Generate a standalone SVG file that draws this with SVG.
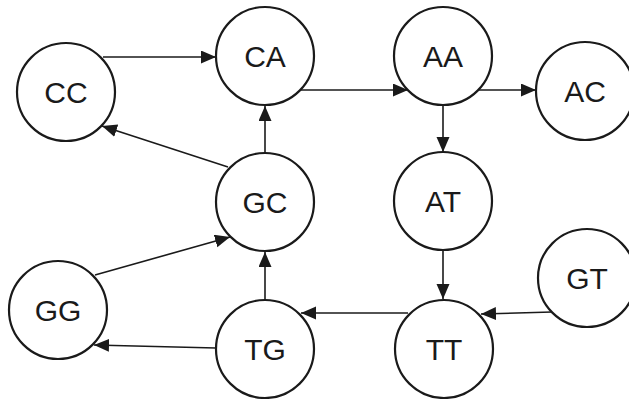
<svg xmlns="http://www.w3.org/2000/svg" width="629" height="399" viewBox="0 0 629 399">
  <style>
    .node circle { fill: #fff; stroke: #1a1a1a; stroke-width: 2.2; }
    .node text { font-family: "Liberation Sans", Arial, sans-serif; font-size: 30px; fill: #1a1a1a; text-anchor: middle; }
    .edges line { stroke: #1a1a1a; stroke-width: 1.6; marker-end: url(#arrow); }
  </style>
  <defs>
    <marker id="arrow" markerUnits="userSpaceOnUse" markerWidth="16" markerHeight="14" refX="15" refY="6.5" orient="auto">
      <path d="M0,0 L15,6.5 L0,13 Z" fill="#1a1a1a"/>
    </marker>
  </defs>

  <g id="connectors" class="edges">
    <line x1="103" y1="57" x2="216" y2="57"/>
    <line x1="300" y1="90" x2="408" y2="90"/>
    <line x1="478" y1="90" x2="536" y2="90"/>
    <line x1="443" y1="106" x2="443" y2="152"/>
    <line x1="265" y1="153" x2="265" y2="106"/>
    <line x1="228" y1="167" x2="102" y2="126"/>
    <line x1="95" y1="275" x2="230" y2="237"/>
    <line x1="265" y1="300" x2="265" y2="252"/>
    <line x1="216" y1="348" x2="94" y2="345"/>
    <line x1="408" y1="313" x2="301" y2="313"/>
    <line x1="443" y1="250" x2="443" y2="299"/>
    <line x1="552" y1="312" x2="481" y2="314"/>
  </g>

  <g id="node-CC" class="node"><circle cx="66" cy="92" r="49"/><text x="66" y="103">CC</text></g>
  <g id="node-CA" class="node"><circle cx="265" cy="56" r="49"/><text x="265" y="67">CA</text></g>
  <g id="node-AA" class="node"><circle cx="443" cy="56" r="49"/><text x="443" y="67">AA</text></g>
  <g id="node-AC" class="node"><circle cx="585" cy="91" r="49"/><text x="585" y="102">AC</text></g>
  <g id="node-GC" class="node"><circle cx="265" cy="202" r="49"/><text x="265" y="213">GC</text></g>
  <g id="node-AT" class="node"><circle cx="443" cy="201" r="49"/><text x="443" y="212">AT</text></g>
  <g id="node-GG" class="node"><circle cx="58" cy="310" r="49"/><text x="58" y="321">GG</text></g>
  <g id="node-TG" class="node"><circle cx="265" cy="349" r="49"/><text x="265" y="360">TG</text></g>
  <g id="node-TT" class="node"><circle cx="444" cy="349" r="49"/><text x="444" y="360">TT</text></g>
  <g id="node-GT" class="node"><circle cx="587" cy="278" r="49"/><text x="587" y="289">GT</text></g>
</svg>
